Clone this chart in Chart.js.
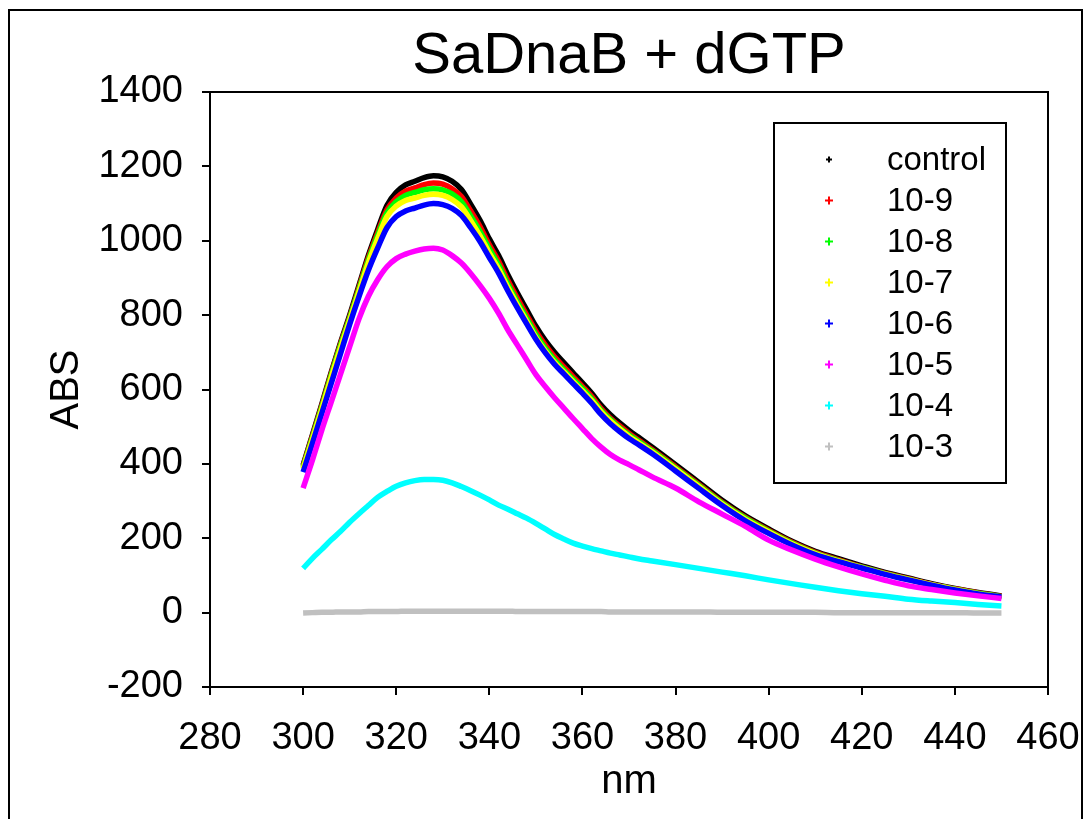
<!DOCTYPE html>
<html>
<head>
<meta charset="utf-8">
<script src="https://cdn.jsdelivr.net/npm/chart.js@4.4.1/dist/chart.umd.min.js"></script>
<style>
  html, body { margin: 0; padding: 0; background: #fff; }
  #wrap { width: 1085px; height: 819px; position: relative; }
</style>
</head>
<body>
<div id="wrap"><canvas id="c" width="1085" height="819"></canvas></div>
<script>
// ---- Data ----
const wavelength = [300,302,304,306,308,310,312,314,316,318,320,322,324,326,328,330,332,334,336,338,340,342,344,346,348,350,352,354,356,358,360,362,364,366,368,370,372,375,380,385,390,395,400,405,410,415,420,425,430,435,440,445,450];

const absControl = [397,478,560,645,725,800,880,960,1030,1095,1130,1150,1160,1170,1175,1172,1160,1138,1098,1055,1005,960,908,860,815,770,732,700,672,645,618,590,558,532,510,490,472,445,398,350,302,260,225,192,165,145,126,108,93,78,65,54,45];
const abs1e9 = [394,475,556,641,721,795,874,953,1021,1083,1115,1133,1142,1151,1155,1152,1140,1119,1080,1038,989,945,893,846,801,757,720,688,661,634,608,581,549,523,502,482,464,438,392,345,297,256,221,189,162,142,123,106,91,76,64,53,44];
const abs1e8 = [391,471,552,637,717,791,869,947,1014,1075,1105,1122,1130,1137,1140,1137,1126,1105,1067,1025,978,934,883,836,792,748,711,680,653,627,602,575,544,519,497,478,461,435,389,342,295,254,219,187,160,140,122,105,90,75,63,52,43];
const abs1e7 = [387,466,547,631,710,786,863,940,1005,1065,1093,1108,1115,1122,1125,1122,1111,1091,1054,1013,967,924,874,828,784,740,704,673,647,621,596,570,540,515,494,474,457,432,386,339,292,251,217,185,159,139,121,104,89,75,62,51,42];
const abs1e6 = [378,455,535,615,695,775,850,920,980,1035,1065,1080,1088,1096,1100,1097,1087,1068,1035,998,955,913,865,820,777,735,699,668,642,616,590,563,533,508,487,468,452,427,381,334,288,247,213,182,156,137,120,103,88,74,61,50,42];
const abs1e5 = [335,410,490,565,640,715,790,850,895,930,952,964,972,978,980,975,960,940,912,880,845,805,760,720,680,640,608,578,550,522,495,468,445,425,410,398,385,365,335,298,265,232,195,168,144,123,104,87,72,62,53,45,38];
const abs1e4 = [119,146,170,195,218,243,266,288,310,326,340,349,355,358,358,356,349,339,328,316,303,289,278,266,254,240,225,210,198,187,179,172,166,160,155,150,145,139,129,119,109,99,88,78,68,59,51,44,36,31,27,22,18];
const abs1e3 = [-1,0,1,1,2,2,2,3,3,3,3,4,4,4,4,4,4,4,4,4,4,4,4,3,3,3,3,3,3,3,3,3,3,2,2,2,2,2,2,2,1,1,1,1,1,0,0,0,0,0,0,-1,-1];

const seriesLabels = ['control','10-9','10-8','10-7','10-6','10-5','10-4','10-3'];
const seriesValues = [absControl, abs1e9, abs1e8, abs1e7, abs1e6, abs1e5, abs1e4, abs1e3];
const seriesColors = ['#000000','#ff0000','#00ff00','#ffff00','#0000ff','#ff00ff','#00ffff','#c0c0c0'];

const xTicks = [280,300,320,340,360,380,400,420,440,460];
const yTicks = [-200,0,200,400,600,800,1000,1200,1400];

const chartTitle = 'SaDnaB + dGTP';
const FONT = "'Liberation Sans', Arial, Helvetica, sans-serif";

const datasets = seriesLabels.map((lab, i) => ({
  label: lab,
  data: wavelength.map((x, j) => ({x: x, y: seriesValues[i][j]})),
  borderColor: seriesColors[i],
  backgroundColor: seriesColors[i],
  borderWidth: 5.5,
  pointRadius: 0,
  showLine: true,
  cubicInterpolationMode: 'monotone',
  order: seriesLabels.length - i
}));

// frame around plot area + outer figure border + title centred over plot
const framePlugin = {
  id: 'frame',
  beforeDraw(chart) {
    const ctx = chart.ctx;
    ctx.save();
    ctx.fillStyle = '#fff';
    ctx.fillRect(0, 0, chart.width, chart.height);
    ctx.restore();
  },
  afterDraw(chart) {
    const {ctx, chartArea: a} = chart;
    ctx.save();
    ctx.strokeStyle = '#000';
    ctx.lineWidth = 2;
    ctx.strokeRect(a.left, a.top, a.right - a.left, a.bottom - a.top);
    ctx.strokeRect(9, 10, chart.width - 12, chart.height - 3);
    ctx.fillStyle = '#000';
    ctx.font = '58px ' + FONT;
    ctx.textAlign = 'center';
    ctx.textBaseline = 'alphabetic';
    ctx.fillText(chartTitle, (a.left + a.right) / 2, a.top - 19);
    ctx.restore();
  }
};

// boxed legend inside the plot
const boxLegend = {
  id: 'boxLegend',
  afterDraw(chart) {
    const ctx = chart.ctx;
    const a = chart.chartArea;
    const bx = a.right - 274, by = a.top + 31, bw = 232, bh = 360;
    ctx.save();
    ctx.fillStyle = '#fff';
    ctx.fillRect(bx, by, bw, bh);
    ctx.strokeStyle = '#000';
    ctx.lineWidth = 2;
    ctx.strokeRect(bx, by, bw, bh);
    ctx.font = '33px ' + FONT;
    ctx.textBaseline = 'middle';
    ctx.textAlign = 'left';
    chart.data.datasets.forEach((ds, i) => {
      const yy = by + 36.5 + i * 41;
      const r = i === 0 ? 3 : 4;
      ctx.strokeStyle = ds.borderColor;
      ctx.fillStyle = ds.borderColor;
      Chart.helpers.drawPoint(ctx, {pointStyle: 'cross', radius: r, borderWidth: i === 0 ? 2 : 3, rotation: 0}, bx + 55, yy);
      ctx.fillStyle = '#000';
      ctx.fillText(ds.label, bx + 113, yy + 1);
    });
    ctx.restore();
  }
};

new Chart(document.getElementById('c'), {
  type: 'scatter',
  data: { datasets },
  options: {
    responsive: false,
    animation: false,
    layout: { padding: { left: 0, right: 37, top: 92, bottom: 0 } },
    plugins: {
      legend: { display: false },
      tooltip: { enabled: false },
      title: { display: false }
    },
    scales: {
      x: {
        type: 'linear',
        min: 280, max: 460,
        afterBuildTicks: (s) => { s.ticks = xTicks.map(v => ({value: v})); },
        afterFit: (s) => { s.height = 132; s.paddingLeft = 0; s.paddingRight = 0; },
        ticks: { color: '#000', font: { family: FONT, size: 38 }, padding: 21, maxRotation: 0, autoSkip: false,
                 callback: (v) => String(v) },
        grid: { display: true, drawOnChartArea: false, drawTicks: true, tickLength: 8, color: '#000', lineWidth: 2 },
        border: { display: true, color: '#000', width: 2 },
        title: { display: true, text: 'nm', color: '#000', font: { family: FONT, size: 40, lineHeight: 1.2 }, padding: { top: 0, bottom: 13 } }
      },
      y: {
        type: 'linear',
        min: -200, max: 1400,
        afterBuildTicks: (s) => { s.ticks = yTicks.map(v => ({value: v})); },
        afterFit: (s) => { s.width = 210; s.paddingTop = 0; s.paddingBottom = 0; },
        ticks: { color: '#000', font: { family: FONT, size: 38 }, padding: 19, autoSkip: false,
                 callback: (v) => String(v) },
        grid: { display: true, drawOnChartArea: false, drawTicks: true, tickLength: 8, color: '#000', lineWidth: 2 },
        border: { display: true, color: '#000', width: 2 },
        title: { display: true, text: 'ABS', color: '#000', font: { family: FONT, size: 40, lineHeight: 1.2 }, padding: { top: 43, bottom: 0 } }
      }
    }
  },
  plugins: [framePlugin, boxLegend]
});
</script>
</body>
</html>
